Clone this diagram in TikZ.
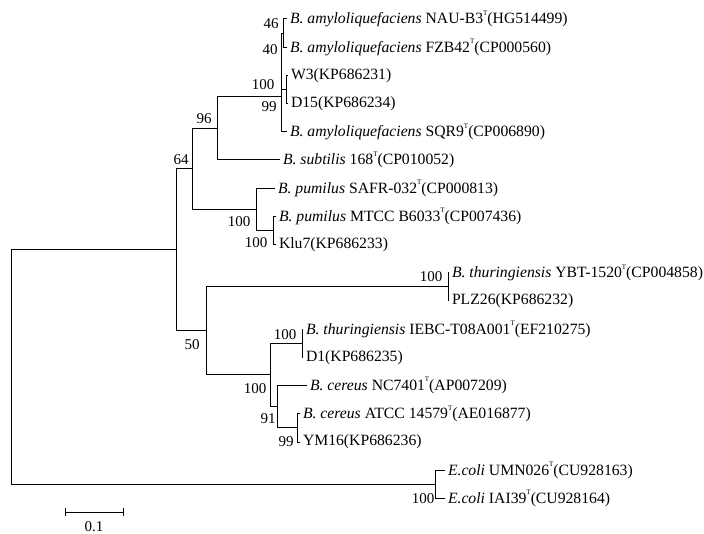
\documentclass[tikz,border=0pt]{standalone}
\usepackage{fontspec}
\setmainfont{Liberation Serif}
\newcommand{\sT}{\raisebox{0.55em}{\fontsize{7}{7}\selectfont T}}
\begin{document}
\begin{tikzpicture}[x=1pt,y=-1pt,line width=1pt,
  lab/.style={font=\fontsize{15.7}{18}\selectfont, anchor=west, inner ysep=0pt, inner xsep=2.5pt},
  bs/.style={font=\fontsize{15}{18}\selectfont, inner sep=0pt}]
\useasboundingbox (0,0) rectangle (704,534);
% internal nodes
\coordinate (root) at (11,367.1);
\coordinate (nB) at (176,249.9);
\coordinate (nE) at (435,484.3);
\coordinate (n64) at (192,168.8);
\coordinate (n96) at (217,128.3);
\coordinate (nA) at (281,96.6);
\coordinate (nX) at (281,61.3);
\coordinate (nNF) at (283,33.1);
\coordinate (nWD) at (286,89.5);
\coordinate (nP) at (256,209.4);
\coordinate (nMK) at (273,230.5);
\coordinate (n50) at (206,331);
\coordinate (nYP) at (448,286.9);
\coordinate (n100) at (270,375);
\coordinate (nID) at (302,343.3);
\coordinate (nC) at (277,406.8);
\coordinate (nCY) at (297,427.9);
% leaves
\node[lab] (t1) at (287,19) {\textit{B. amyloliquefaciens} NAU-B3\sT(HG514499)};
\node[lab] (t2) at (287,47.2) {\textit{B. amyloliquefaciens} FZB42\sT(CP000560)};
\node[lab] (t3) at (288,75.4) {W3(KP686231)};
\node[lab] (t4) at (288,103.6) {D15(KP686234)};
\node[lab] (t5) at (287,131.8) {\textit{B. amyloliquefaciens} SQR9\sT(CP006890)};
\node[lab] (t6) at (280,160) {\textit{B. subtilis} 168\sT(CP010052)};
\node[lab] (t7) at (275,188.2) {\textit{B. pumilus} SAFR-032\sT(CP000813)};
\node[lab] (t8) at (276,216.4) {\textit{B. pumilus} MTCC B6033\sT(CP007436)};
\node[lab] (t9) at (276,244.6) {Klu7(KP686233)};
\node[lab] (t10) at (449,272.8) {\textit{B. thuringiensis} YBT-1520\sT(CP004858)};
\node[lab] (t11) at (449,301) {PLZ26(KP686232)};
\node[lab] (t12) at (303,329.2) {\textit{B. thuringiensis} IEBC-T08A001\sT(EF210275)};
\node[lab] (t13) at (303,357.4) {D1(KP686235)};
\node[lab] (t14) at (307,385.6) {\textit{B. cereus} NC7401\sT(AP007209)};
\node[lab] (t15) at (300,413.8) {\textit{B. cereus} ATCC 14579\sT(AE016877)};
\node[lab] (t16) at (300,442) {YM16(KP686236)};
\node[lab] (t17) at (445,470.2) {\textit{E.coli} UMN026\sT(CU928163)};
\node[lab] (t18) at (445,498.4) {\textit{E.coli} IAI39\sT(CU928164)};
% branches
\draw (root) |- (nB);
\draw (root) |- (nE);
\draw (nB) |- (n64);
\draw (nB) |- (n50);
\draw (n64) |- (n96);
\draw (n64) |- (nP);
\draw (n96) |- (nA);
\draw (n96) |- (t6.west);
\draw (nA) |- (nX);
\draw (nA) |- (t5.west);
\draw (nX) |- (nNF);
\draw (nX) |- (nWD);
\draw (nNF) |- (t1.west);
\draw (nNF) |- (t2.west);
\draw (nWD) |- (t3.west);
\draw (nWD) |- (t4.west);
\draw (nP) |- (t7.west);
\draw (nP) |- (nMK);
\draw (nMK) |- (t8.west);
\draw (nMK) |- (t9.west);
\draw (n50) |- (nYP);
\draw (n50) |- (n100);
\draw (nYP) |- (t10.west);
\draw (nYP) |- (t11.west);
\draw (n100) |- (nID);
\draw (n100) |- (nC);
\draw (nID) |- (t12.west);
\draw (nID) |- (t13.west);
\draw (nC) |- (t14.west);
\draw (nC) |- (nCY);
\draw (nCY) |- (t15.west);
\draw (nCY) |- (t16.west);
\draw (nE) |- (t17.west);
\draw (nE) |- (t18.west);
% bootstrap values
\node[bs] (b46) at (271,24) {46};
\node[bs] (b40) at (270,50) {40};
\node[bs] (b100a) at (263,85) {100};
\node[bs] (b99a) at (269,107) {99};
\node[bs] (b96) at (204,119) {96};
\node[bs] (b64) at (181,160) {64};
\node[bs] (b100p) at (239,222) {100};
\node[bs] (b100k) at (256,243) {100};
\node[bs] (b50) at (192,345) {50};
\node[bs] (b100y) at (431,277) {100};
\node[bs] (b100i) at (285,335) {100};
\node[bs] (b100c) at (255,389) {100};
\node[bs] (b91) at (268,419) {91};
\node[bs] (b99c) at (286,442) {99};
\node[bs] (b100e) at (423,499) {100};
% scale bar
\coordinate (s1) at (65,512);
\coordinate (s2) at (123,512);
\draw (s1) -- (s2);
\draw ([yshift=-4pt]s1) -- ([yshift=4pt]s1);
\draw ([yshift=-4pt]s2) -- ([yshift=4pt]s2);
\node[bs] (sl) at (94,527) {0.1};
\end{tikzpicture}
\end{document}
